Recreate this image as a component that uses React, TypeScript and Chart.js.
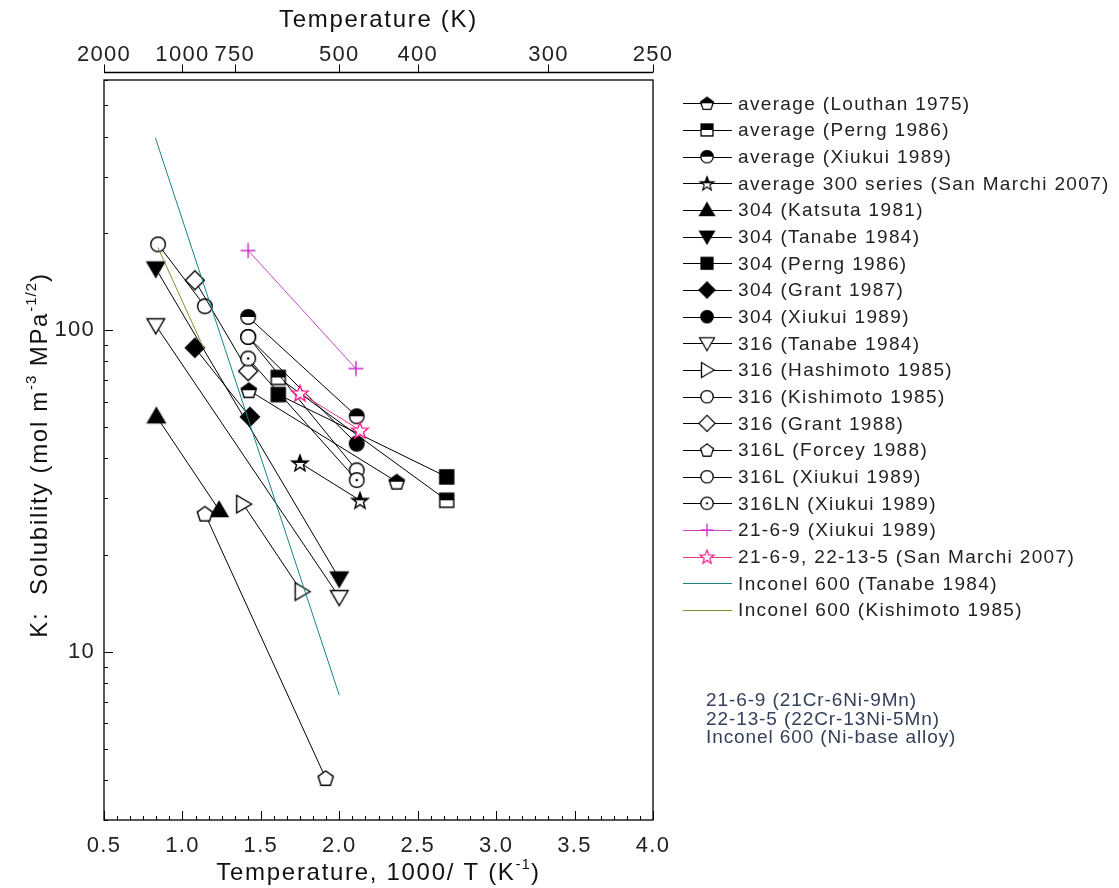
import React, { useEffect, useRef } from 'react';
import { Chart, registerables } from 'chart.js';

Chart.register(...registerables);

// ---------- canvas / layout ----------
const CANVAS_W = 1119;
const CANVAS_H = 888;
const PLOT_LEFT = 104;
const PLOT_RIGHT = 653;
const PLOT_TOP = 80;
const PLOT_BOTTOM = 820;
const FONT = '"Liberation Sans", Arial, sans-serif';

// ---------- axes ----------
const xMin = 0.5;
const xMax = 4.0;
const xMajorTicks = [0.5, 1.0, 1.5, 2.0, 2.5, 3.0, 3.5, 4.0];
const xMinorPerMajor = 5;
const yMin = 3;
const yMax = 600;
const yTicks = [3, 4, 5, 6, 7, 8, 9, 10, 20, 30, 40, 50, 60, 70, 80, 90, 100, 200, 300, 400, 500, 600];
const yLabeledTicks = [10, 100];
const topTempTicks = [2000, 1000, 750, 500, 400, 300, 250];

// ---------- data (x = 1000/T, y = K) ----------
const louthanX = [1.423, 2.366];
const louthanY = [65.1, 33.8];
const perngAvgX = [1.611, 2.685];
const perngAvgY = [71.3, 29.6];
const xiukuiAvgX = [1.419, 2.111];
const xiukuiAvgY = [110, 54.0];
const sanMarchiAvgX = [1.749, 2.132];
const sanMarchiAvgY = [38.7, 29.6];
const katsuta304X = [0.834, 1.234];
const katsuta304Y = [54.0, 27.6];
const tanabe304X = [0.83, 2.0];
const tanabe304Y = [155.6, 16.9];
const perng304X = [1.611, 2.685];
const perng304Y = [63.1, 35.0];
const grant304X = [1.079, 1.43];
const grant304Y = [88.2, 53.8];
const xiukui304X = [1.419, 2.111];
const xiukui304Y = [95.3, 44.4];
const tanabe316X = [0.83, 2.0];
const tanabe316Y = [103.6, 14.8];
const hashimoto316X = [1.387, 1.76];
const hashimoto316Y = [28.8, 15.4];
const kishimoto316X = [0.845, 1.143];
const kishimoto316Y = [185, 118.8];
const grant316X = [1.079, 1.419];
const grant316Y = [143, 74.6];
const forcey316LX = [1.143, 1.913];
const forcey316LY = [26.9, 4.05];
const xiukui316LX = [1.419, 2.111];
const xiukui316LY = [95.3, 36.7];
const xiukui316LNX = [1.419, 2.111];
const xiukui316LNY = [81.7, 34.2];
const xiukui2169X = [1.419, 2.106];
const xiukui2169Y = [177, 76.0];
const sanMarchi2169X = [1.749, 2.132];
const sanMarchi2169Y = [63.8, 48.9];
const inconelTanabeX = [0.828, 2.0];
const inconelTanabeY = [396, 7.33];
const inconelKishimotoX = [0.843, 1.136];
const inconelKishimotoY = [181, 87.9];

const seriesLabels = [
  'average (Louthan 1975)',
  'average (Perng 1986)',
  'average (Xiukui 1989)',
  'average 300 series (San Marchi 2007)',
  '304 (Katsuta 1981)',
  '304 (Tanabe 1984)',
  '304 (Perng 1986)',
  '304 (Grant 1987)',
  '304 (Xiukui 1989)',
  '316 (Tanabe 1984)',
  '316 (Hashimoto 1985)',
  '316 (Kishimoto 1985)',
  '316 (Grant 1988)',
  '316L (Forcey 1988)',
  '316L (Xiukui 1989)',
  '316LN (Xiukui 1989)',
  '21-6-9 (Xiukui 1989)',
  '21-6-9, 22-13-5 (San Marchi 2007)',
  'Inconel 600 (Tanabe 1984)',
  'Inconel 600 (Kishimoto 1985)',
];
const seriesX = [
  louthanX, perngAvgX, xiukuiAvgX, sanMarchiAvgX, katsuta304X, tanabe304X, perng304X, grant304X,
  xiukui304X, tanabe316X, hashimoto316X, kishimoto316X, grant316X, forcey316LX, xiukui316LX,
  xiukui316LNX, xiukui2169X, sanMarchi2169X, inconelTanabeX, inconelKishimotoX,
];
const seriesY = [
  louthanY, perngAvgY, xiukuiAvgY, sanMarchiAvgY, katsuta304Y, tanabe304Y, perng304Y, grant304Y,
  xiukui304Y, tanabe316Y, hashimoto316Y, kishimoto316Y, grant316Y, forcey316LY, xiukui316LY,
  xiukui316LNY, xiukui2169Y, sanMarchi2169Y, inconelTanabeY, inconelKishimotoY,
];

const noteLines = ['21-6-9 (21Cr-6Ni-9Mn)', '22-13-5 (22Cr-13Ni-5Mn)', 'Inconel 600 (Ni-base alloy)'];

// ---------- styles ----------
type MarkerSpec = { shape: string; fill: string; color: string } | null;
const seriesMarkers: MarkerSpec[] = [
  { shape: 'pentagon', fill: 'half', color: '#000' },
  { shape: 'square', fill: 'half', color: '#000' },
  { shape: 'circle', fill: 'half', color: '#000' },
  { shape: 'star', fill: 'half', color: '#000' },
  { shape: 'triUp', fill: 'solid', color: '#000' },
  { shape: 'triDown', fill: 'solid', color: '#000' },
  { shape: 'square', fill: 'solid', color: '#000' },
  { shape: 'diamond', fill: 'solid', color: '#000' },
  { shape: 'circle', fill: 'solid', color: '#000' },
  { shape: 'triDown', fill: 'open', color: '#000' },
  { shape: 'triRight', fill: 'open', color: '#000' },
  { shape: 'circle', fill: 'open', color: '#000' },
  { shape: 'diamond', fill: 'open', color: '#000' },
  { shape: 'pentagon', fill: 'open', color: '#000' },
  { shape: 'circle', fill: 'open', color: '#000' },
  { shape: 'circle', fill: 'dot', color: '#000' },
  { shape: 'plus', fill: 'open', color: '#cc33cc' },
  { shape: 'star', fill: 'open', color: '#ff1a8c' },
  null,
  null,
];
const seriesLineColors = [
  '#000', '#000', '#000', '#000', '#000', '#000', '#000', '#000', '#000', '#000',
  '#000', '#000', '#000', '#000', '#000', '#000', '#cc44cc', '#e8347c', '#1a8585', '#8a8a30',
];

function makeMarker(spec: { shape: string; fill: string; color: string }): HTMLCanvasElement {
  const S = 24;
  const c = document.createElement('canvas');
  c.width = S;
  c.height = S;
  const g = c.getContext('2d') as CanvasRenderingContext2D;
  g.translate(S / 2, S / 2);
  g.lineWidth = 1.4;
  g.strokeStyle = spec.color;
  g.fillStyle = spec.color;
  const poly = (pts: number[][]) => {
    g.beginPath();
    pts.forEach((p, i) => (i ? g.lineTo(p[0], p[1]) : g.moveTo(p[0], p[1])));
    g.closePath();
  };
  const path = () => {
    switch (spec.shape) {
      case 'circle':
        g.beginPath();
        g.arc(0, 0, 7.3, 0, Math.PI * 2);
        break;
      case 'square':
        poly([[-7, -7], [7, -7], [7, 7], [-7, 7]]);
        break;
      case 'diamond':
        poly([[0, -9.5], [9.5, 0], [0, 9.5], [-9.5, 0]]);
        break;
      case 'triUp':
        poly([[0, -8.5], [8.8, 6.5], [-8.8, 6.5]]);
        break;
      case 'triDown':
        poly([[0, 8.5], [8.8, -6.5], [-8.8, -6.5]]);
        break;
      case 'triRight':
        poly([[8.5, 0], [-6.5, -8.8], [-6.5, 8.8]]);
        break;
      case 'pentagon': {
        const pts: number[][] = [];
        for (let k = 0; k < 5; k++) {
          const a = -Math.PI / 2 + (k * 2 * Math.PI) / 5;
          pts.push([8 * Math.cos(a), 8 * Math.sin(a) + 0.8]);
        }
        poly(pts);
        break;
      }
      case 'star': {
        const pts: number[][] = [];
        for (let k = 0; k < 10; k++) {
          const a = -Math.PI / 2 + (k * Math.PI) / 5;
          const r = k % 2 ? 3.6 : 8.6;
          pts.push([r * Math.cos(a), r * Math.sin(a) + 0.8]);
        }
        poly(pts);
        break;
      }
      default:
        break;
    }
  };
  if (spec.shape === 'plus') {
    g.lineWidth = 1.5;
    g.beginPath();
    g.moveTo(-7.5, 0);
    g.lineTo(7.5, 0);
    g.moveTo(0, -7.5);
    g.lineTo(0, 7.5);
    g.stroke();
    return c;
  }
  path();
  if (spec.fill === 'solid') {
    g.fill();
    g.stroke();
  } else {
    g.fillStyle = '#fff';
    g.fill();
    if (spec.fill === 'half') {
      g.save();
      path();
      g.clip();
      g.fillStyle = spec.color;
      g.fillRect(-S / 2, -S / 2, S, S / 2);
      g.restore();
    }
    path();
    g.stroke();
    if (spec.fill === 'dot') {
      g.fillStyle = spec.color;
      g.beginPath();
      g.arc(0, 0, 1.3, 0, Math.PI * 2);
      g.fill();
    }
  }
  return c;
}

type Seg = [string, boolean];
function drawRich(ctx: CanvasRenderingContext2D, segs: Seg[], x: number, y: number, size: number, spacing: number) {
  const supSize = Math.round(size * 0.62);
  const widths: number[] = [];
  let total = 0;
  segs.forEach(([t, s]) => {
    ctx.font = `${s ? supSize : size}px ${FONT}`;
    (ctx as any).letterSpacing = `${s ? spacing * 0.6 : spacing}px`;
    const w = ctx.measureText(t).width;
    widths.push(w);
    total += w;
  });
  let cx = x - total / 2;
  ctx.textAlign = 'left';
  ctx.textBaseline = 'middle';
  segs.forEach(([t, s], i) => {
    ctx.font = `${s ? supSize : size}px ${FONT}`;
    (ctx as any).letterSpacing = `${s ? spacing * 0.6 : spacing}px`;
    ctx.fillText(t, cx, s ? y - size * 0.36 : y);
    cx += widths[i];
  });
}

const TICK_SPACING = '1.3px';

export default function App() {
  const canvasRef = useRef<HTMLCanvasElement | null>(null);

  useEffect(() => {
    document.body.style.margin = '0';
    const canvas = canvasRef.current;
    if (!canvas) return;

    const markerImgs = seriesMarkers.map((m) => (m ? makeMarker(m) : null));

    const datasets = seriesLabels.map((label, i) => ({
      label,
      data: seriesX[i].map((x, k) => ({ x, y: seriesY[i][k] })),
      showLine: true,
      borderColor: seriesLineColors[i],
      backgroundColor: seriesLineColors[i],
      borderWidth: 1,
      pointStyle: (markerImgs[i] || 'circle') as any,
      pointRadius: markerImgs[i] ? 8 : 0,
      pointHoverRadius: markerImgs[i] ? 8 : 0,
      order: seriesLabels.length - i,
    }));

    const xTickValues: number[] = [];
    for (let m = 0; m < xMajorTicks.length; m++) {
      xTickValues.push(xMajorTicks[m]);
      if (m < xMajorTicks.length - 1) {
        const step = (xMajorTicks[m + 1] - xMajorTicks[m]) / (xMinorPerMajor + 1);
        for (let k = 1; k <= xMinorPerMajor; k++) xTickValues.push(xMajorTicks[m] + k * step);
      }
    }

    const tickFont = { family: FONT, size: 22 };

    const framePlugin = {
      id: 'frameAndDecor',
      beforeLayout(chart: any) {
        chart.ctx.letterSpacing = TICK_SPACING;
      },
      beforeDraw(chart: any) {
        chart.ctx.letterSpacing = TICK_SPACING;
        const ctx = chart.ctx as CanvasRenderingContext2D;
        ctx.save();
        ctx.fillStyle = '#fff';
        ctx.fillRect(0, 0, chart.width, chart.height);
        ctx.restore();
      },
      afterDraw(chart: any) {
        const ctx = chart.ctx as CanvasRenderingContext2D;
        const a = chart.chartArea;
        const xs = chart.scales.x;
        const xt = chart.scales.xTop;
        const ys = chart.scales.y;
        ctx.save();
        ctx.strokeStyle = '#000';
        ctx.lineWidth = 1.3;
        ctx.strokeRect(a.left, a.top, a.right - a.left, a.bottom - a.top);

        // bottom ticks (inward)
        ctx.lineWidth = 1;
        ctx.beginPath();
        xs.ticks.forEach((t: any, i: number) => {
          const px = Math.round(xs.getPixelForValue(t.value)) + 0.5;
          const len = i % (xMinorPerMajor + 1) === 0 ? 9 : 4;
          ctx.moveTo(px, a.bottom);
          ctx.lineTo(px, a.bottom - len);
        });
        // left ticks (inward)
        ys.ticks.forEach((t: any) => {
          const py = Math.round(ys.getPixelForValue(t.value)) + 0.5;
          const len = yLabeledTicks.includes(t.value) ? 9 : 4;
          ctx.moveTo(a.left, py);
          ctx.lineTo(a.left + len, py);
        });
        ctx.stroke();

        // top temperature axis (separate line above the frame)
        const topLineY = a.top - 7.5;
        ctx.lineWidth = 1.3;
        ctx.beginPath();
        ctx.moveTo(a.left, topLineY);
        ctx.lineTo(a.right, topLineY);
        ctx.stroke();
        ctx.lineWidth = 1;
        ctx.beginPath();
        xt.ticks.forEach((t: any) => {
          const px = Math.round(xt.getPixelForValue(t.value)) + 0.5;
          ctx.moveTo(px, topLineY);
          ctx.lineTo(px, topLineY - 8);
        });
        ctx.stroke();

        // axis titles
        ctx.fillStyle = '#111';
        const cx = (a.left + a.right) / 2;
        drawRich(ctx, [['Temperature (K)', false]], cx, 20, 24, 1.7);
        drawRich(ctx, [['Temperature, 1000/ T (K', false], ['-1', true], [')', false]], cx, 873, 24, 1.7);
        ctx.save();
        ctx.translate(40, (a.top + a.bottom) / 2 + 5);
        ctx.rotate(-Math.PI / 2);
        drawRich(
          ctx,
          [['K:  Solubility (mol m', false], ['-3', true], [' MPa', false], ['-1/2', true], [')', false]],
          0,
          0,
          24,
          1.7,
        );
        ctx.restore();

        // legend
        const lx0 = 683;
        const lx1 = 732;
        const lmx = 707;
        const ltx = 738;
        const ly0 = 103.3;
        const ldy = 26.67;
        ctx.textAlign = 'left';
        ctx.textBaseline = 'middle';
        seriesLabels.forEach((label, i) => {
          const y = ly0 + i * ldy;
          ctx.strokeStyle = seriesLineColors[i];
          ctx.lineWidth = 1;
          ctx.beginPath();
          ctx.moveTo(lx0, Math.round(y) + 0.5);
          ctx.lineTo(lx1, Math.round(y) + 0.5);
          ctx.stroke();
          const img = markerImgs[i];
          if (img) {
            const s = 0.85;
            ctx.drawImage(img, lmx - (img.width * s) / 2, y - (img.height * s) / 2, img.width * s, img.height * s);
          }
          ctx.fillStyle = '#222';
          (ctx as any).letterSpacing = '1.35px';
          ctx.font = `19px ${FONT}`;
          ctx.fillText(label, ltx, y + 1);
        });

        // note
        ctx.fillStyle = '#34405a';
        ctx.font = `19px ${FONT}`;
        (ctx as any).letterSpacing = '0.9px';
        noteLines.forEach((t, i) => ctx.fillText(t, 706, 701 + i * 18.4));
        ctx.restore();
        (ctx as any).letterSpacing = TICK_SPACING;
      },
    };

    const chart = new Chart(canvas, {
      type: 'scatter',
      data: { datasets: datasets as any },
      options: {
        responsive: false,
        animation: false,
        events: [],
        layout: { padding: { left: 0, right: CANVAS_W - PLOT_RIGHT, top: 0, bottom: 0 } },
        plugins: { legend: { display: false }, tooltip: { enabled: false }, title: { display: false } },
        scales: {
          x: {
            type: 'linear',
            position: 'bottom',
            min: xMin,
            max: xMax,
            afterBuildTicks: (s: any) => {
              s.ticks = xTickValues.map((v) => ({ value: v }));
            },
            afterFit: (s: any) => {
              s.height = CANVAS_H - PLOT_BOTTOM;
            },
            ticks: {
              autoSkip: false,
              maxRotation: 0,
              padding: 13,
              color: '#222',
              font: tickFont,
              callback: (v: any, i: number) => (i % (xMinorPerMajor + 1) === 0 ? Number(v).toFixed(1) : ''),
            },
            grid: { display: false, drawTicks: false },
            border: { display: false },
          },
          xTop: {
            type: 'linear',
            position: 'top',
            min: xMin,
            max: xMax,
            afterBuildTicks: (s: any) => {
              s.ticks = topTempTicks.map((T) => ({ value: 1000 / T }));
            },
            afterFit: (s: any) => {
              s.height = PLOT_TOP;
            },
            ticks: {
              autoSkip: false,
              maxRotation: 0,
              padding: 12,
              color: '#222',
              font: tickFont,
              callback: (_v: any, i: number) => String(topTempTicks[i]),
            },
            grid: { display: false, drawTicks: false },
            border: { display: false },
          },
          y: {
            type: 'logarithmic',
            position: 'left',
            min: yMin,
            max: yMax,
            afterBuildTicks: (s: any) => {
              s.ticks = yTicks.map((v) => ({ value: v }));
            },
            afterFit: (s: any) => {
              s.width = PLOT_LEFT;
            },
            ticks: {
              autoSkip: false,
              padding: 9,
              color: '#222',
              font: tickFont,
              callback: (v: any) => (yLabeledTicks.includes(Number(v)) ? String(v) : ''),
            },
            grid: { display: false, drawTicks: false },
            border: { display: false },
          },
        },
      } as any,
      plugins: [framePlugin],
    });

    return () => chart.destroy();
  }, []);

  return (
    <div style={{ position: 'absolute', left: 0, top: 0, width: CANVAS_W, height: CANVAS_H, background: '#fff' }}>
      <canvas ref={canvasRef} width={CANVAS_W} height={CANVAS_H} style={{ display: 'block' }} />
    </div>
  );
}
